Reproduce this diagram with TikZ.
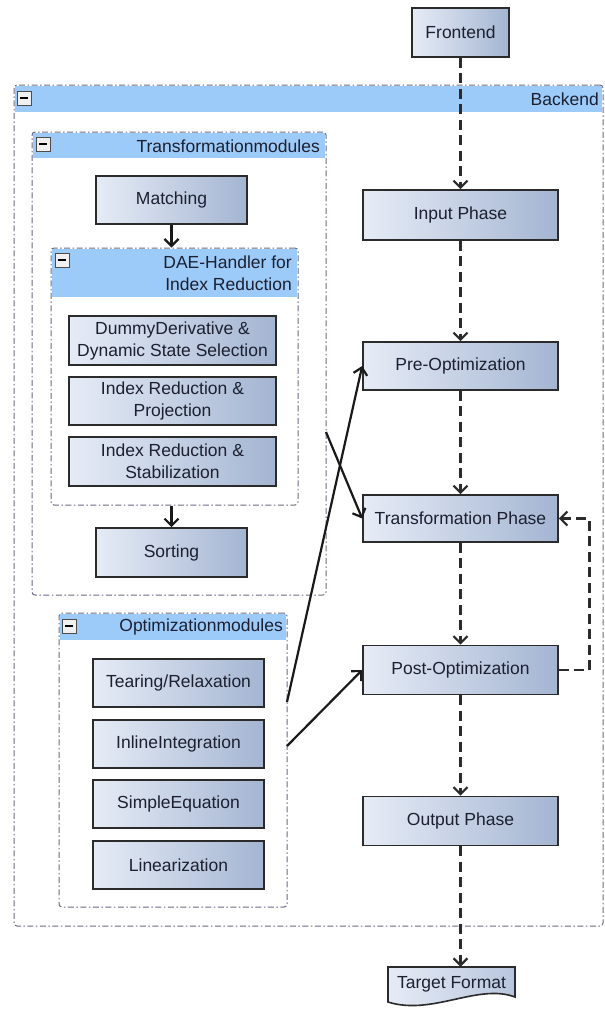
\documentclass[tikz,border=0pt]{standalone}
\usepackage{fontspec}
\setmainfont{Liberation Sans}
\usetikzlibrary{arrows.meta,calc}
\definecolor{boxL}{HTML}{E6ECF6}
\definecolor{boxR}{HTML}{A4B5D2}
\definecolor{boxB}{HTML}{2B2B2B}
\definecolor{hdr}{HTML}{9DCBF9}
\definecolor{cont}{HTML}{6A6A88}
\definecolor{txt}{HTML}{1C2030}
\newcommand\mybtn[2]{%
  \draw[fill=gray!12, draw=gray!60!black, line width=0.8pt] (#1,#2) rectangle ++(14,14);
  \draw[line width=2.4pt, draw=black] (#1+3.2,#2+7) -- ++(7.6,0);}
\begin{document}
\begin{tikzpicture}[x=1pt,y=-1pt,
  every node/.style={font=\fontsize{17.5}{22}\selectfont, text=txt},
  box/.style={draw=boxB, line width=1.6pt, left color=boxL, right color=boxR, align=center, inner sep=0pt},
  container/.style={draw=cont, line width=1pt, fill=white, dash pattern=on 6pt off 2.5pt on 1.5pt off 2.5pt, rounded corners=3pt, inner sep=0pt},
  hdrtext/.style={anchor=east, align=right, inner sep=0pt},
  flow/.style={line width=2.8pt, dash pattern=on 10pt off 5.5pt, draw=boxB, -{Straight Barb[length=7pt,width=14pt,line width=2.2pt]}},
  link/.style={line width=2.2pt, draw=black!90, -{Straight Barb[length=7pt,width=14pt,line width=2.2pt]}},
  sbox/.style={box, minimum width=151pt, minimum height=48pt},
  dbox/.style={box, minimum width=207pt, minimum height=49pt},
  obox/.style={box, minimum width=171pt, minimum height=48pt},
  pbox/.style={box, minimum width=195pt, minimum height=49pt},
]
\useasboundingbox (0,0) rectangle (605,1010);

% Backend container
\node[container, minimum width=589pt, minimum height=841pt] (backend) at (308.5,505.5) {};
\fill[hdr] (14.8,85.8) rectangle (602.2,112);
\mybtn{17}{91}
\node[hdrtext] (backendlbl) at (599,99) {Backend};

% Transformationmodules container
\node[container, minimum width=294pt, minimum height=463pt] (transmod) at (179,363.5) {};
\fill[hdr] (32.8,132.8) rectangle (325.2,158);
\mybtn{36}{137}
\node[hdrtext] (transmodlbl) at (320,146) {Transformationmodules};

\node[sbox] (matching) at (171.5,200) {Matching};

% DAE container
\node[container, minimum width=247pt, minimum height=257pt] (dae) at (174.5,376.5) {};
\fill[hdr] (51.8,248.8) rectangle (297.2,297);
\mybtn{55}{253}
\node[hdrtext] (daelbl) at (292,273) {DAE-Handler for\\Index Reduction};

\node[dbox] (dd) at (172.5,340.5) {DummyDerivative \&\\Dynamic State Selection};
\node[dbox, minimum height=48pt] (irp) at (172.5,401) {Index Reduction \&\\Projection};
\node[dbox] (irs) at (172.5,461.5) {Index Reduction \&\\Stabilization};

\node[sbox, minimum height=49pt] (sorting) at (171.5,552.5) {Sorting};

\draw[link] (matching.south) -- (matching.south |- dae.north);
\draw[link] (sorting.north |- dae.south) -- (sorting.north);

% Optimizationmodules container
\node[container, minimum width=228pt, minimum height=294pt] (optmod) at (173,760) {};
\fill[hdr] (59.8,613.8) rectangle (286.2,640);
\mybtn{62}{619}
\node[hdrtext] (optmodlbl) at (283,627) {Optimizationmodules};

\node[obox] (tearing) at (178.5,683) {Tearing/Relaxation};
\node[obox] (inline) at (178.5,744) {InlineIntegration};
\node[obox] (simple) at (178.5,804) {SimpleEquation};
\node[obox] (linear) at (178.5,865) {Linearization};

% Right column
\node[box, minimum width=97pt, minimum height=49pt] (frontend) at (460.5,32.5) {Frontend};
\node[pbox, minimum height=50pt] (input) at (460.5,215) {Input Phase};
\node[pbox, minimum height=48pt] (preopt) at (460.5,366) {Pre-Optimization};
\node[pbox, minimum height=47pt] (transf) at (460.5,518.5) {Transformation Phase};
\node[pbox] (postopt) at (460.5,670) {Post-Optimization};
\node[pbox] (output) at (460.5,821) {Output Phase};

% Target format (document shape)
\draw[draw=boxB, line width=1.6pt, left color=boxL, right color=boxR!70!boxL]
  (388,967) -- (515,967) -- (515,997) .. controls (478,983) and (432,1016) .. (388,1002) -- cycle;
\node[inner sep=0pt, minimum width=127pt, minimum height=34pt] (target) at (451.5,984) {Target Format};

% Flow
\draw[flow] (frontend.south) -- (input.north);
\draw[flow] (input.south) -- (preopt.north);
\draw[flow] (preopt.south) -- (transf.north);
\draw[flow] (transf.south) -- (postopt.north);
\draw[flow] (postopt.south) -- (output.north);
\draw[flow] (output.south) -- (output.south |- target.north);
\draw[flow] (postopt.east) -- ++(31,0) |- (transf.east);

% Module links
\coordinate (t1) at (326,432);
\coordinate (o1) at (287,702);
\coordinate (o2) at (287,746);
\draw[link] (t1) -- (transf.west);
\draw[link] (o1) -- (preopt.west);
\draw[link] (o2) -- (postopt.west);
\end{tikzpicture}
\end{document}
